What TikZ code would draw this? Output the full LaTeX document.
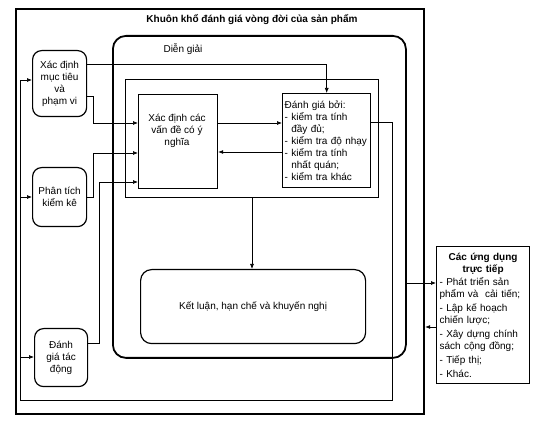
\documentclass[tikz,border=0pt]{standalone}
\usepackage{fontspec}
\setmainfont{Liberation Sans}
\usetikzlibrary{arrows.meta}

\begin{document}
\begin{tikzpicture}[x=1pt, y=-1pt,
    font=\fontsize{10}{12}\selectfont,
    box/.style={draw, line width=1.2pt, anchor=north west, inner sep=2pt, align=center},
    softbox/.style={box, rounded corners=9pt},
    link/.style={line width=0.7pt, -{Latex[length=5pt, width=4pt]}},
    wire/.style={line width=0.7pt}]
    \useasboundingbox (0,0) rectangle (539,422);

    \node[box, line width=2.2pt, minimum width=408, minimum height=405] (frame) at (15,8) {};
    \node[font=\fontsize{10}{12}\selectfont\bfseries] (title) at (252,20) {Khuôn khổ đánh giá vòng đời của sản phẩm};

    \node[box, line width=1.8pt, rounded corners=13pt, minimum width=293, minimum height=322] (interp) at (112,35) {};
    \node (interplabel) at (183,49) {Diễn giải};
    \node[box, line width=0.9pt, minimum width=253, minimum height=118] (inner) at (125,79) {};

    \node[box, minimum width=79, minimum height=94] (issues) at (138,94) {};
    \node[align=center] (issuestext) at (177,131) {Xác định các\\vấn đề có ý\\nghĩa};
    \node[box, line width=1.4pt, minimum width=88, minimum height=94, text width=84pt, align=left] (eval) at (282,93)
        {Đánh giá bởi:\\- kiểm tra tính\\\phantom{- }đầy đủ;\\- kiểm tra độ nhạy\\- kiểm tra tính\\\phantom{- }nhất quán;\\- kiểm tra khác};

    \node[softbox, minimum width=54, minimum height=66] (goal) at (32,50) {Xác định\\mục tiêu\\và\\phạm vi};
    \node[softbox, minimum width=54, minimum height=59] (inventory) at (32,167) {Phân tích\\kiểm kê};
    \node[softbox, minimum width=53, minimum height=58] (impact) at (34,328) {Đánh\\giá tác\\động};

    \node[softbox, rounded corners=11pt, minimum width=225, minimum height=74] (concl) at (140,269) {Kết luận, hạn chế và khuyến nghị};

    \node[box, minimum width=93, minimum height=137, text width=87pt, inner xsep=3pt, align=left] (apps) at (436,246)
        {\makebox[87pt]{\bfseries Các ứng dụng}\\\makebox[87pt]{\bfseries trực tiếp}\\[1pt]
         - Phát triển sản\\phẩm và~ cải tiến;\\[2pt]- Lập kế hoạch\\chiến lược;\\[2pt]- Xây dựng chính\\sách cộng đồng;\\[2pt]- Tiếp thị;\\[2pt]- Khác.};

    \draw[link] (goal.east |- 0,64) -| (eval.north);
    \draw[link] (goal.east |- 0,96) -- (93,96) |- (issues.west |- 0,123);
    \draw[link] (inventory.east |- 0,197) -- (93,197) |- (issues.west |- 0,153);
    \draw[link] (impact.east |- 0,343) -- (99,343) |- (issues.west |- 0,182);
    \draw[link] (issues.east |- 0,123) -- (eval.west |- 0,123);
    \draw[link] (eval.west |- 0,152) -- (issues.east |- 0,152);
    \draw[link] (inner.south -| 252,0) -- (concl.north -| 252,0);

    \coordinate (tapgoal) at (20,80);
    \coordinate (tapinv) at (20,197);
    \coordinate (tapimp) at (20,357);
    \draw[wire] (eval.east |- 0,122) -| (392,400) -| (tapgoal);
    \draw[link] (tapgoal) -- (goal.west |- tapgoal);
    \draw[link] (tapinv) -- (inventory.west |- tapinv);
    \draw[link] (tapimp) -- (impact.west |- tapimp);

    \draw[link] (interp.east |- 0,283) -- (apps.west |- 0,283);
    \draw[link] (apps.west |- 0,327) -- (frame.east |- 0,327);
\end{tikzpicture}
\end{document}
